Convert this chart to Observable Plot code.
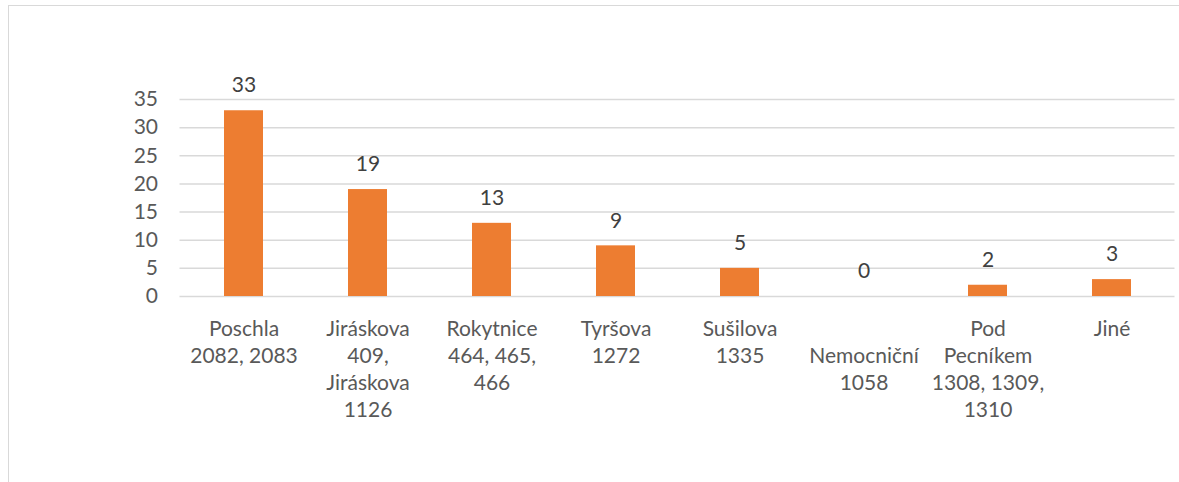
<!DOCTYPE html>
<html>
<head>
<meta charset="utf-8">
<script src="https://cdn.jsdelivr.net/npm/d3@7"></script>
<script src="https://cdn.jsdelivr.net/npm/@observablehq/plot@0.6"></script>
<style>
  html, body { margin: 0; padding: 0; background: #fff; overflow: hidden; }
  #wrap { position: relative; width: 1179px; height: 482px; }
  #border { position: absolute; left: 8px; top: 5px; width: 1200px; height: 500px; border: 1px solid #D9D9D9; box-sizing: border-box; }
  #chart { position: absolute; left: 0; top: 0; }
</style>
</head>
<body>
<div id="wrap"><div id="border"></div><div id="chart"></div></div>
<script>
const categories = [
  "Poschla\n2082, 2083",
  "Jiráskova\n409,\nJiráskova\n1126",
  "Rokytnice\n464, 465,\n466",
  "Tyršova\n1272",
  "Sušilova\n1335",
  "\nNemocniční\n1058",
  "Pod\nPecníkem\n1308, 1309,\n1310",
  "Jiné"
];
const values = [33, 19, 13, 9, 5, 0, 2, 3];
const yTicks = [0, 5, 10, 15, 20, 25, 30, 35];

const data = categories.map((c, i) => ({cat: c, value: values[i]}));
const font = "Lato, 'Open Sans', sans-serif";

const chart = Plot.plot({
  width: 1179,
  height: 482,
  marginLeft: 179.5,
  marginRight: 4.5,
  marginTop: 99,
  marginBottom: 186,
  style: {fontFamily: font, background: "transparent"},
  x: {domain: categories, paddingInner: 0.687, paddingOuter: 0.3435, axis: null},
  y: {domain: [0, 35], axis: null},
  marks: [
    Plot.gridY(yTicks, {stroke: "#D9D9D9", strokeOpacity: 1, strokeWidth: 1.5}),
    Plot.axisY(yTicks, {tickSize: 0, tickPadding: 22, fontSize: 21, fill: "#595959", label: null}),
    Plot.barY(data, {x: "cat", y: "value", fill: "#ED7D31"}),
    Plot.text(data, {x: "cat", y: "value", text: d => String(d.value), dy: -25, fontSize: 21, fill: "#404040"}),
    Plot.text(data, {x: "cat", y: () => 0, text: "cat", lineAnchor: "top", dy: 20, lineHeight: 1.286, fontSize: 21, fill: "#595959"})
  ]
});
document.getElementById("chart").appendChild(chart);
</script>
</body>
</html>
